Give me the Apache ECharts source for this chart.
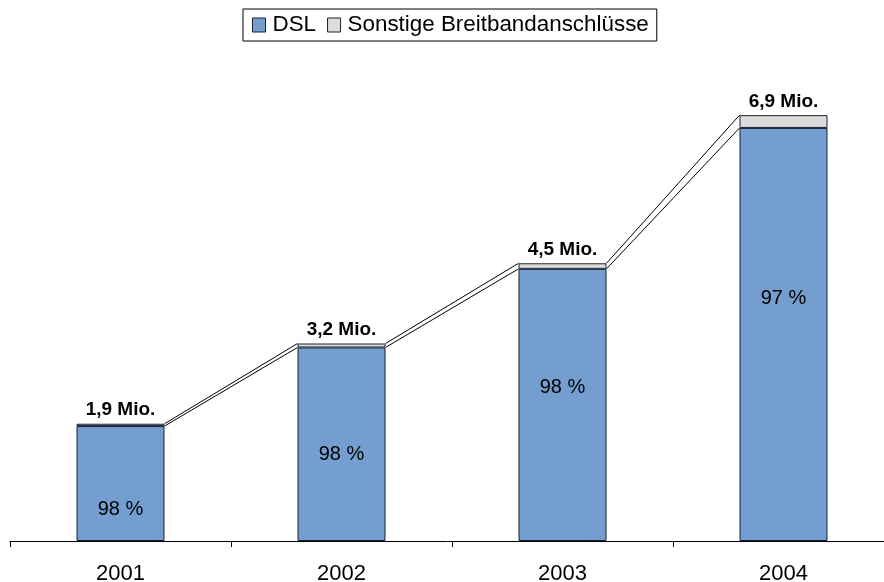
<!DOCTYPE html>
<html>
<head>
<meta charset="utf-8">
<script src="https://cdn.jsdelivr.net/npm/echarts@6/dist/echarts.min.js"></script>
<style>
  html, body { margin: 0; padding: 0; background: #fff; }
  #chart { width: 884px; height: 582px; }
</style>
</head>
<body>
<div id="chart"></div>
<script>
  // Jahre und Werte (Mio. Anschlüsse)
  var years = ['2001', '2002', '2003', '2004'];
  var totals = [1.9, 3.2, 4.5, 6.9];
  var dslShare = [98, 98, 98, 97];

  var dsl = totals.map(function (t, i) { return +(t * dslShare[i] / 100).toFixed(3); });
  var other = totals.map(function (t, i) { return +(t - dsl[i]).toFixed(3); });

  var BAR_W = 88;
  // verschiebung der %-Beschriftung im Balken
  var pctShift = [26, 10, -17, -36];

  // Verbindungslinien zwischen den Balken
  var links = [];
  for (var i = 0; i < years.length - 1; i++) {
    links.push([i, dsl[i], totals[i], dsl[i + 1], totals[i + 1]]);
  }

  var chart = echarts.init(document.getElementById('chart'));
  chart.setOption({
    animation: false,
    textStyle: { fontFamily: 'Liberation Sans, Arial, sans-serif' },
    legend: {
      top: 9,
      left: 243,
      data: ['DSL', 'Sonstige Breitbandanschlüsse'],
      icon: 'rect',
      itemWidth: 13,
      itemHeight: 14,
      itemGap: 11,
      itemStyle: { borderColor: '#1a2030', borderWidth: 1 },
      borderColor: '#000',
      borderWidth: 1,
      borderRadius: 0,
      padding: [5, 8, 5, 9],
      textStyle: { fontSize: 22.4, color: '#000', padding: [0, 0, 0, 2] }
    },
    grid: { left: 10, right: -10, top: 109, bottom: 41, outerBoundsMode: 'none' },
    xAxis: {
      type: 'category',
      data: years,
      axisLine: { lineStyle: { color: '#000', width: 1 } },
      axisTick: { show: true, length: 6, lineStyle: { color: '#000' } },
      axisLabel: { color: '#000', fontSize: 22, margin: 22 }
    },
    yAxis: {
      type: 'value',
      min: 0,
      max: 7,
      show: false,
      splitLine: { show: false }
    },
    series: [
      {
        name: 'DSL',
        type: 'bar',
        stack: 'a',
        barWidth: BAR_W,
        itemStyle: { color: '#749ecf', borderColor: '#1a2030', borderWidth: 1 },
        data: dsl.map(function (v, i) {
          return {
            value: v,
            label: {
              show: true,
              position: 'inside',
              offset: [0, pctShift[i]],
              formatter: dslShare[i] + ' %',
              color: '#000',
              fontSize: 20
            }
          };
        })
      },
      {
        name: 'Sonstige Breitbandanschlüsse',
        type: 'bar',
        stack: 'a',
        barWidth: BAR_W,
        itemStyle: { color: '#dcdcdc', borderColor: '#1a2030', borderWidth: 1 },
        label: {
          show: true,
          position: 'top',
          distance: 4,
          color: '#000',
          fontSize: 19,
          fontWeight: 'bold',
          formatter: function (p) {
            return String(totals[p.dataIndex]).replace('.', ',') + ' Mio.';
          }
        },
        data: other
      },
      {
        type: 'custom',
        silent: true,
        z: 5,
        data: links,
        renderItem: function (params, api) {
          var i = api.value(0);
          var a1 = api.coord([i, api.value(1)]);
          var a2 = api.coord([i, api.value(2)]);
          var b1 = api.coord([i + 1, api.value(3)]);
          var b2 = api.coord([i + 1, api.value(4)]);
          var h = BAR_W / 2;
          var st = { stroke: '#000', lineWidth: 1, fill: null };
          return {
            type: 'group',
            children: [
              { type: 'line', shape: { x1: a1[0] + h, y1: a1[1], x2: b1[0] - h, y2: b1[1] }, style: st },
              { type: 'line', shape: { x1: a2[0] + h, y1: a2[1], x2: b2[0] - h, y2: b2[1] }, style: st }
            ]
          };
        }
      }
    ]
  });
  window.addEventListener('resize', function () { chart.resize(); });
</script>
</body>
</html>
